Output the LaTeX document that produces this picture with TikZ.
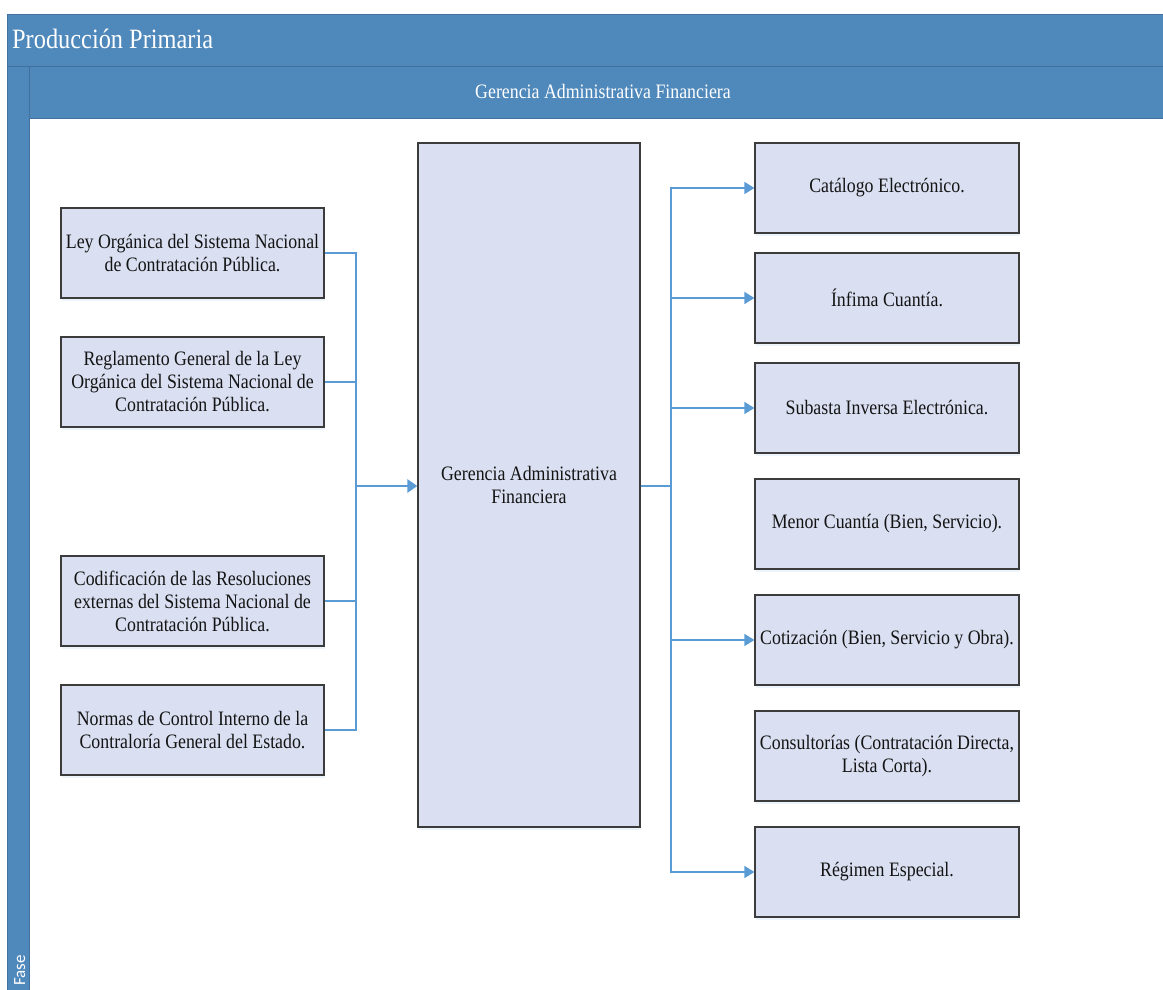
\documentclass[tikz,border=0pt]{standalone}
\usepackage{fontspec}
\setmainfont{Liberation Serif}[FakeStretch=0.87]
\newfontfamily\lanefont{Carlito}
\usetikzlibrary{arrows.meta,shadows}
\definecolor{poolblue}{HTML}{4F88BB}
\definecolor{pooledge}{HTML}{41719C}
\definecolor{boxfill}{HTML}{DAE0F2}
\definecolor{boxedge}{HTML}{3C3C3C}
\definecolor{flow}{HTML}{5B9BD5}
\definecolor{ink}{HTML}{141414}

\begin{document}
\begin{tikzpicture}[x=1pt,y=-1pt,
  band/.style={fill=poolblue,draw=pooledge,line width=0.9pt},
  task/.style={draw=boxedge,line width=1.2pt,fill=boxfill,align=center,
    inner sep=2pt,text=ink,font=\fontsize{20.5}{23}\selectfont,
    drop shadow={shadow xshift=1pt,shadow yshift=-3pt,fill=flow!30,opacity=0.35}},
  srcbox/.style={task,minimum width=263pt,minimum height=90pt},
  outbox/.style={task,minimum width=264pt,minimum height=90pt},
  hubbox/.style={task,minimum width=222pt,minimum height=684pt},
  feed/.style={draw=flow,line width=1.5pt},
  trunk/.style={draw=flow,line width=2.6pt},
  tip/.style={-{Triangle[length=10pt,width=12pt]}},
  bigtip/.style={-{Triangle[length=10pt,width=13pt]}}]

\useasboundingbox (0,0) rectangle (1163,990);
\begin{scope}
\clip (0,0) rectangle (1163,990);
% pool bands
\draw[band] (7,14) rectangle (1175,66);
\draw[band] (7,66) rectangle (29,1000);
\draw[band] (29,66) rectangle (1175,118);
\end{scope}

\node[anchor=base west,inner sep=0pt,text=white,font=\fontsize{28}{30}\selectfont]
  (pool) at (12,49) {Producción Primaria};
\node[text=white,inner sep=0pt,font=\fontsize{20.5}{23}\selectfont]
  (lane) at (603,91) {Gerencia Administrativa Financiera};
\node[rotate=90,anchor=base east,inner sep=0pt,text=white,font=\lanefont\fontsize{17}{19}\selectfont]
  (phase) at (25,955) {Fase};

% source documents
\node[srcbox] (l1) at (192.5,253) {Ley Orgánica del Sistema Nacional\\de Contratación Pública.};
\node[srcbox] (l2) at (192.5,382) {Reglamento General de la Ley\\Orgánica del Sistema Nacional de\\Contratación Pública.};
\node[srcbox] (l3) at (192.5,601) {Codificación de las Resoluciones\\externas del Sistema Nacional de\\Contratación Pública.};
\node[srcbox] (l4) at (192.5,730) {Normas de Control Interno de la\\Contraloría General del Estado.};

% central unit
\node[hubbox] (hub) at (529,485) {Gerencia Administrativa\\Financiera};

% procurement procedures
\node[outbox] (r1) at (887,188) {Catálogo Electrónico.};
\node[outbox] (r2) at (887,298) {Ínfima Cuantía.};
\node[outbox] (r3) at (887,408) {Subasta Inversa Electrónica.};
\node[outbox] (r4) at (887,524) {Menor Cuantía (Bien, Servicio).};
\node[outbox] (r5) at (887,640) {Cotización (Bien, Servicio y Obra).};
\node[outbox] (r6) at (887,756) {Consultorías (Contratación Directa,\\Lista Corta).};
\node[outbox] (r7) at (887,872) {Régimen Especial.};

% collector buses
\coordinate (lbus) at (356,486);
\coordinate (rbus) at (671,486);

\foreach \n in {l1,l2,l3,l4}
  \draw[feed] (\n.east) -| (lbus);
\draw[trunk,bigtip] (lbus) -- (hub.west |- lbus);

\draw[trunk] (hub.east |- rbus) -- (rbus);
\foreach \n in {r1,r2,r3,r5,r7}
  \draw[feed,tip] (rbus) |- (\n.west);
\end{tikzpicture}
\end{document}
